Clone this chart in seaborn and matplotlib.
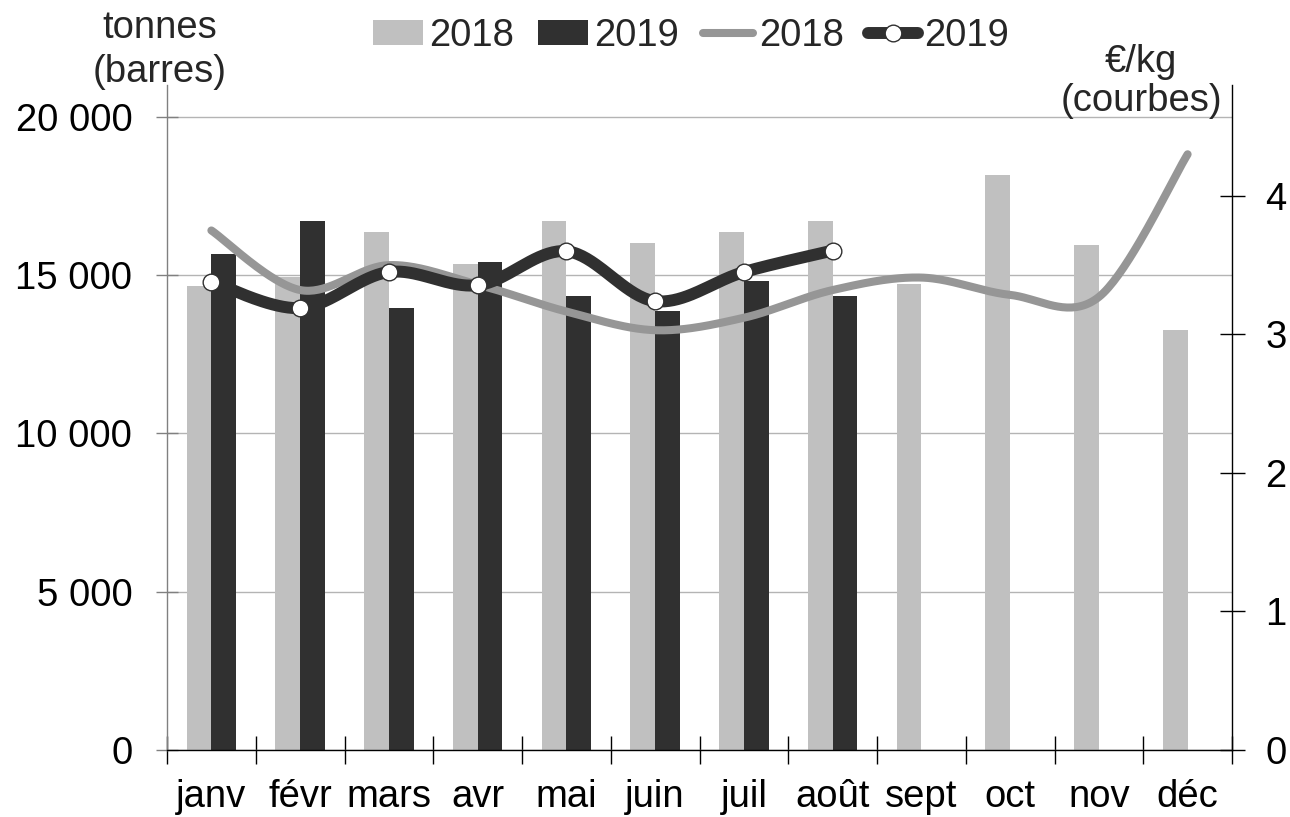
import numpy as np
import pandas as pd
import matplotlib
matplotlib.use('Agg')
import matplotlib.pyplot as plt
import seaborn as sns
from matplotlib.patches import Patch
from matplotlib.lines import Line2D
from matplotlib.ticker import FuncFormatter

months = ['janv', 'févr', 'mars', 'avr', 'mai', 'juin', 'juil', 'août', 'sept', 'oct', 'nov', 'déc']
years = ['2018', '2019']
tonnes_2018 = [14650, 14950, 16350, 15350, 16700, 16000, 16350, 16700, 14700, 18150, 15950, 13250]
tonnes_2019 = [15650, 16700, 13950, 15400, 14350, 13850, 14800, 14350]
prix_2018 = [3.75, 3.32, 3.50, 3.36, 3.165, 3.03, 3.12, 3.32, 3.41, 3.285, 3.27, 4.30]
prix_2019 = [3.38, 3.19, 3.45, 3.355, 3.60, 3.24, 3.45, 3.605]
left_ticks = [0, 5000, 10000, 15000, 20000]
right_ticks = [0, 1, 2, 3, 4]

C18_BAR = '#c0c0c0'
C19_BAR = '#303030'
C18_LINE = '#969696'
C19_LINE = '#303030'
FS = 27.5

sns.set_theme(style='white')
plt.rcParams['font.family'] = ['Liberation Sans', 'DejaVu Sans']

W, H = 1290, 817
fig = plt.figure(figsize=(W / 100, H / 100), dpi=100)
ax = fig.add_axes([167 / W, 1 - 750 / H, (1232 - 167) / W, (750 - 85) / H])

df = pd.DataFrame({
    'mois': months * 2,
    'annee': ['2018'] * 12 + ['2019'] * 12,
    'tonnes': tonnes_2018 + tonnes_2019 + [np.nan] * (12 - len(tonnes_2019)),
})
sns.barplot(data=df, x='mois', y='tonnes', hue='annee', order=months, hue_order=years,
            palette=[C18_BAR, C19_BAR], width=0.56, gap=0, saturation=1,
            errorbar=None, ax=ax, legend=False, zorder=2, linewidth=0, edgecolor='none')

ax.set_xlim(-0.5, 11.5)
ax.set_ylim(0, 21000)
ax.set_xlabel('')
ax.set_ylabel('')
ax.set_axisbelow(True)
ax.set_yticks(left_ticks)
ax.yaxis.set_major_formatter(FuncFormatter(lambda v, p: f'{int(v):,}'.replace(',', ' ')))
ax.yaxis.grid(True, color='#b4b4b4', lw=1)
ax.xaxis.grid(False)
ax.set_xticks(range(12))
ax.set_xticklabels(months)
ax.set_xticks(np.arange(-0.5, 12, 1), minor=True)
ax.tick_params(axis='x', which='major', bottom=True, length=0, pad=21, labelsize=FS, labelcolor='black')
ax.tick_params(axis='x', which='minor', bottom=True, direction='inout', length=20, width=1, color='black')
ax.tick_params(axis='y', left=True, direction='inout', length=16, width=1, color='#808080', pad=17,
               labelsize=FS, labelcolor='black')
for s in ['top', 'right']:
    ax.spines[s].set_visible(False)
ax.spines['left'].set_color('#808080')
ax.spines['left'].set_linewidth(1)
ax.spines['bottom'].set_color('black')
ax.spines['bottom'].set_linewidth(1)

ax2 = ax.twinx()
ax2.set_ylim(0, 4.8)
ax2.set_yticks(right_ticks)
ax2.grid(False)
ax2.tick_params(axis='y', right=True, direction='inout', length=18, width=1, color='black', pad=15,
                labelsize=FS, labelcolor='black')
for s in ['top', 'left', 'bottom']:
    ax2.spines[s].set_visible(False)
ax2.spines['right'].set_color('black')
ax2.spines['right'].set_linewidth(1)


def bezier_smooth(vals, n=40):
    x = np.arange(len(vals), dtype=float)
    P = np.column_stack([x, np.asarray(vals, float)])
    out = []
    t = np.linspace(0, 1, n)[:, None]
    for i in range(len(P) - 1):
        p0 = P[i - 1] if i > 0 else P[i]
        p1, p2 = P[i], P[i + 1]
        p3 = P[i + 2] if i + 2 < len(P) else P[i + 1]
        c1 = p1 + (p2 - p0) / 6
        c2 = p2 - (p3 - p1) / 6
        seg = (1 - t) ** 3 * p1 + 3 * (1 - t) ** 2 * t * c1 + 3 * (1 - t) * t ** 2 * c2 + t ** 3 * p2
        out.append(seg if i == 0 else seg[1:])
    return np.vstack(out)


s18 = bezier_smooth(prix_2018)
s19 = bezier_smooth(prix_2019)
ax2.plot(s18[:, 0], s18[:, 1], color=C18_LINE, lw=5.8, solid_capstyle='round', zorder=3)
ax2.plot(s19[:, 0], s19[:, 1], color=C19_LINE, lw=8.6, solid_capstyle='round', zorder=4)
ax2.plot(range(len(prix_2019)), prix_2019, linestyle='none', marker='o', ms=12,
         mfc='white', mec=C19_LINE, mew=1, zorder=5)
ax2.set_xlim(-0.5, 11.5)

handles = [
    Patch(facecolor=C18_BAR, edgecolor='none'),
    Patch(facecolor=C19_BAR, edgecolor='none'),
    Line2D([], [], color=C18_LINE, lw=5.8, solid_capstyle='round'),
    Line2D([], [], color=C19_LINE, lw=8.6, solid_capstyle='round', marker='o', ms=12,
           mfc='white', mec=C19_LINE, mew=1),
]
fig.legend(handles, ['2018', '2019', '2018', '2019'], loc='center', bbox_to_anchor=(691 / W, 1 - 36 / H),
           ncol=4, frameon=False, fontsize=FS, handlelength=1.3, handleheight=0.6,
           handletextpad=0.15, columnspacing=0.65, borderpad=0.2)

fig.text(160 / W, 1 - 28 / H, 'tonnes', ha='center', va='center', fontsize=FS)
fig.text(160 / W, 1 - 72 / H, '(barres)', ha='center', va='center', fontsize=FS)
fig.text(1141 / W, 1 - 62 / H, '€/kg', ha='center', va='center', fontsize=FS)
fig.text(1141 / W, 1 - 101 / H, '(courbes)', ha='center', va='center', fontsize=FS)

fig.savefig('out.png', dpi=100)
